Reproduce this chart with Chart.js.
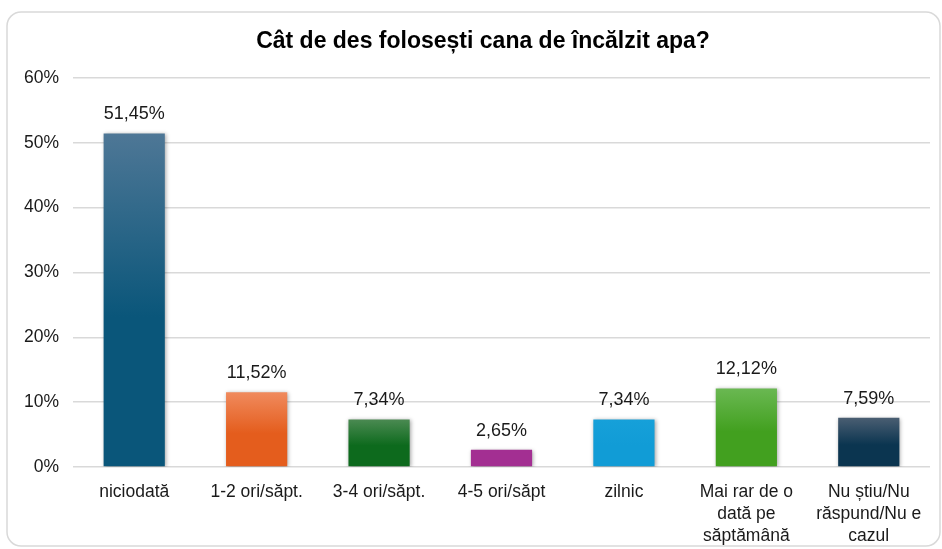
<!DOCTYPE html>
<html lang="ro">
<head>
  <meta charset="UTF-8">
  <title>Cât de des folosești cana de încălzit apa?</title>
  <script src="https://cdn.jsdelivr.net/npm/chart.js"></script>
  <style>
    html, body { margin: 0; padding: 0; background: #fff; }
    #wrap { width: 942px; height: 549px; }
  </style>
</head>
<body>
  <div id="wrap"><canvas id="myChart"></canvas></div>

  <script>
    const titleText = 'Cât de des folosești cana de încălzit apa?';
    const categories = [
      'niciodată',
      '1-2 ori/săpt.',
      '3-4 ori/săpt.',
      '4-5 ori/săpt',
      'zilnic',
      ['Mai rar de o', 'dată pe', 'săptămână'],
      ['Nu știu/Nu', 'răspund/Nu e', 'cazul']
    ];
    const values = [51.45, 11.52, 7.34, 2.65, 7.34, 12.12, 7.59];
    const valueLabels = ['51,45%', '11,52%', '7,34%', '2,65%', '7,34%', '12,12%', '7,59%'];
    const tickLabels = ['0%', '10%', '20%', '30%', '40%', '50%', '60%'];

    // top / bottom colour of each bar's gradient
    const topColors = ['#4e7796', '#f08a5d', '#4b8a52', '#a32f92', '#16a0d9', '#6ab852', '#4a5e72'];
    const bottomColors = ['#0a567a', '#e45d1d', '#0d6a1d', '#a32f92', '#119cd6', '#42a01f', '#0b3550'];

    const FONT = '"Liberation Sans", Arial, sans-serif';

    function barGradient(context) {
      const chart = context.chart;
      const area = chart.chartArea;
      const i = context.dataIndex;
      const yScale = chart.scales.y;
      if (!area || !yScale) return bottomColors[i];
      const yTop = yScale.getPixelForValue(values[i]);
      const g = chart.ctx.createLinearGradient(0, yTop, 0, area.bottom);
      g.addColorStop(0, topColors[i]);
      g.addColorStop(0.55, bottomColors[i]);
      g.addColorStop(1, bottomColors[i]);
      return g;
    }

    const framePlugin = {
      id: 'frame',
      beforeDraw(chart) {
        const ctx = chart.ctx;
        ctx.save();
        ctx.strokeStyle = '#d9d9d9';
        ctx.lineWidth = 1.5;
        ctx.beginPath();
        ctx.roundRect(7, 12, 933, 534, 14);
        ctx.stroke();
        ctx.fillStyle = '#000';
        ctx.font = 'bold 23px ' + FONT;
        ctx.textAlign = 'center';
        ctx.textBaseline = 'middle';
        ctx.fillText(titleText, 483, 42);
        ctx.restore();
      }
    };

    const shadowPlugin = {
      id: 'barShadow',
      beforeDatasetsDraw(chart) {
        const ctx = chart.ctx;
        ctx.save();
        ctx.shadowColor = 'rgba(0,0,0,0.35)';
        ctx.shadowBlur = 4;
        ctx.shadowOffsetX = 1;
        ctx.shadowOffsetY = 1;
      },
      afterDatasetsDraw(chart) {
        const ctx = chart.ctx;
        ctx.restore();
        ctx.save();
        ctx.fillStyle = '#1a1a1a';
        ctx.font = '18px ' + FONT;
        ctx.textAlign = 'center';
        ctx.textBaseline = 'middle';
        chart.getDatasetMeta(0).data.forEach((bar, i) => {
          ctx.fillText(valueLabels[i], bar.x, bar.y - 19);
        });
        ctx.restore();
      }
    };

    new Chart(document.getElementById('myChart'), {
      type: 'bar',
      data: {
        labels: categories,
        datasets: [{
          data: values,
          backgroundColor: barGradient,
          borderWidth: 0,
          barPercentage: 0.5,
          categoryPercentage: 1.0
        }]
      },
      options: {
        responsive: true,
        maintainAspectRatio: false,
        animation: false,
        layout: { padding: { top: 78, right: 12, left: 0, bottom: 0 } },
        plugins: {
          legend: { display: false },
          title: { display: false },
          tooltip: { enabled: false }
        },
        scales: {
          x: {
            grid: { display: false },
            border: { display: false },
            ticks: {
              color: '#1a1a1a',
              font: { family: FONT, size: 17.5, lineHeight: 1.25 },
              padding: 6,
              maxRotation: 0,
              autoSkip: false
            },
            afterFit(scale) { scale.height = 82; }
          },
          y: {
            min: 0,
            max: 60,
            grid: { color: '#d9d9d9', lineWidth: 1.5, drawTicks: false },
            border: { display: false },
            ticks: {
              stepSize: 10,
              color: '#1a1a1a',
              font: { family: FONT, size: 17.5 },
              padding: 14,
              callback: (v) => tickLabels[v / 10]
            },
            afterFit(scale) { scale.width = 73; }
          }
        }
      },
      plugins: [framePlugin, shadowPlugin]
    });
  </script>
</body>
</html>
